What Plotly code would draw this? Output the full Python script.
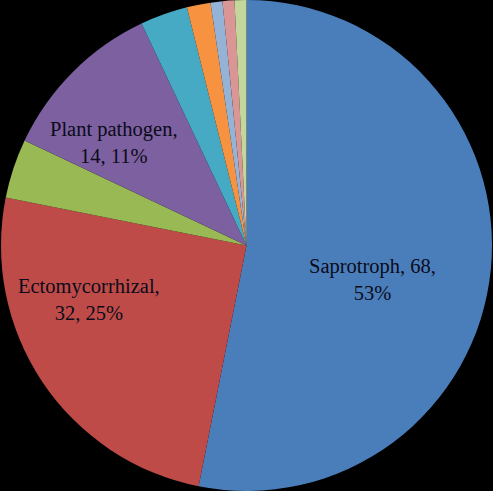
import math
import plotly.graph_objects as go

categories = ["Saprotroph", "Ectomycorrhizal", "Other A", "Plant pathogen",
              "Other B", "Other C", "Other D", "Other E", "Other F"]
counts = [68, 32, 5, 14, 4, 2, 1, 1, 1]
percents = ["53%", "25%", "4%", "11%", "3%", "2%", "1%", "1%", "1%"]
shown = [True, True, False, True, False, False, False, False, False]
colors = ["#4A7EBB", "#BE4B48", "#98B954", "#7D60A0", "#46AAC5",
          "#F69240", "#95B3D7", "#D99694", "#C3D69B"]

# label placement style: (angle offset in degrees, radius fraction of pie radius)
label_style = {"Saprotroph": (9.4, 0.53),
               "Ectomycorrhizal": (14.9, 0.68),
               "Plant pathogen": (-7.2, 0.685)}

W, H = 493, 491
fig = go.Figure(go.Pie(
    labels=categories,
    values=counts,
    textinfo="none",
    sort=False,
    direction="clockwise",
    rotation=0,
    marker=dict(colors=colors, line=dict(width=0)),
    showlegend=False,
    hoverinfo="skip",
))

total = sum(counts)
R = min(W, H) / 2
cum = 0
for c, n, p, s in zip(categories, counts, percents, shown):
    mid = (cum + n / 2) / total * 360
    cum += n
    if not s:
        continue
    if c == "Saprotroph":
        txt = f"{c}, {n},<br>{p}"
    else:
        txt = f"{c},<br>{n}, {p}"
    off, frac = label_style[c]
    a = math.radians(mid + off)
    px = W / 2 + frac * R * math.sin(a)
    py = H / 2 - frac * R * math.cos(a)
    fig.add_annotation(
        x=px / W, y=1 - py / H, xref="paper", yref="paper",
        text=txt, showarrow=False, xanchor="center", yanchor="middle",
        font=dict(family="Liberation Serif, Times New Roman, serif", size=20.5, color="#0b0b1a"),
    )

fig.update_layout(
    width=W, height=H,
    margin=dict(l=0, r=0, t=0, b=0),
    paper_bgcolor="black", plot_bgcolor="black",
)
fig.write_html("out.html")
